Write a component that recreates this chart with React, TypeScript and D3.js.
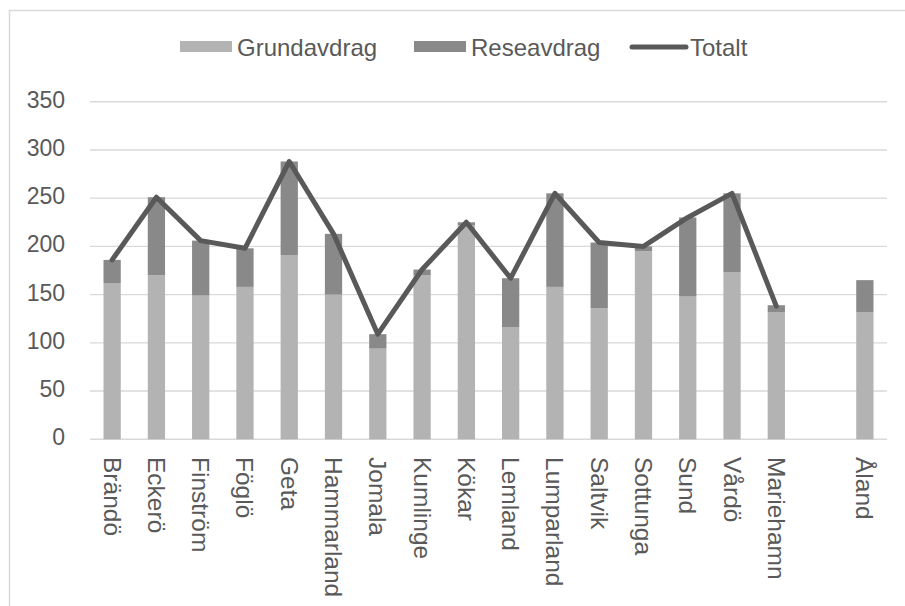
import React from "react";
import * as d3 from "d3";

const categories = ["Brändö", "Eckerö", "Finström", "Föglö", "Geta", "Hammarland", "Jomala", "Kumlinge", "Kökar", "Lemland", "Lumparland", "Saltvik", "Sottunga", "Sund", "Vårdö", "Mariehamn", "", "Åland"];
const grundavdrag: (number | null)[] = [162, 170, 149, 158, 191, 150, 94, 170, 222, 116, 158, 136, 195, 148, 173, 132, null, 132];
const reseavdrag: (number | null)[] = [24, 81, 57, 40, 97, 63, 15, 6, 3, 51, 97, 68, 5, 82, 82, 7, null, 33];
const totalt: (number | null)[] = [186, 251, 206, 198, 288, 213, 109, 176, 225, 167, 255, 204, 200, 230, 255, 138, null, null];
const yTicks = [0, 50, 100, 150, 200, 250, 300, 350];
const seriesNames = ["Grundavdrag", "Reseavdrag", "Totalt"];

const W = 905, H = 606;
const FONT = "'Liberation Sans', Arial, sans-serif";
const TEXT = "#595959";
const C_GRUND = "#b3b3b3";
const C_RESE = "#898989";
const C_LINE = "#595959";
const GRID = "#d9d9d9";

export default function App() {
  const keys = categories.map((c, i) => `${i}|${c}`);
  const x = d3.scaleBand<string>().domain(keys).range([90, 887]).paddingInner(0.61).paddingOuter(0.305);
  const y = d3.scaleLinear().domain([0, 350]).range([439.3, 101.7]);
  const bw = x.bandwidth();
  const cx = (i: number) => (x(keys[i]) as number) + bw / 2;

  const line = d3.line<number | null>()
    .defined((d) => d != null)
    .x((_, i) => cx(i))
    .y((d) => y(d as number));

  return (
    <svg width={W} height={H} style={{ position: "absolute", left: 0, top: 0, background: "#fff" }} fontFamily={FONT}>
      <rect x={9.5} y={10.5} width={W + 20} height={H + 20} fill="#fff" stroke={GRID} strokeWidth={1.5} />
      {yTicks.map((t) => (
        <line key={t} x1={90} x2={887} y1={y(t)} y2={y(t)} stroke={GRID} strokeWidth={1.4} />
      ))}
      {yTicks.map((t) => (
        <text key={"l" + t} x={65} y={y(t) - 2} textAnchor="end" dominantBaseline="central" fontSize={23} fill={TEXT}>{t}</text>
      ))}
      {categories.map((c, i) => {
        const g = grundavdrag[i];
        const r = reseavdrag[i];
        if (g == null) return null;
        const x0 = x(keys[i]) as number;
        return (
          <g key={keys[i]}>
            <rect x={x0} width={bw} y={y(g)} height={y(0) - y(g)} fill={C_GRUND} />
            {r != null && <rect x={x0} width={bw} y={y(g + r)} height={y(g) - y(g + r)} fill={C_RESE} />}
          </g>
        );
      })}
      <path d={line(totalt) || ""} fill="none" stroke={C_LINE} strokeWidth={5} strokeLinejoin="round" strokeLinecap="round" />
      {categories.map((c, i) => (
        <text key={"c" + i} transform={`translate(${cx(i)},457) rotate(90)`} x={0} y={8.5} fontSize={24.5} fill={TEXT}>{c}</text>
      ))}
      <rect x={180} y={41} width={52} height={11} fill={C_GRUND} />
      <text x={237} y={47} dominantBaseline="central" fontSize={24} fill={TEXT}>{seriesNames[0]}</text>
      <rect x={414} y={41} width={52} height={11} fill={C_RESE} />
      <text x={471} y={47} dominantBaseline="central" fontSize={24} fill={TEXT}>{seriesNames[1]}</text>
      <line x1={632} x2={686} y1={47} y2={47} stroke={C_LINE} strokeWidth={5} strokeLinecap="round" />
      <text x={690} y={47} dominantBaseline="central" fontSize={24} fill={TEXT}>{seriesNames[2]}</text>
    </svg>
  );
}
